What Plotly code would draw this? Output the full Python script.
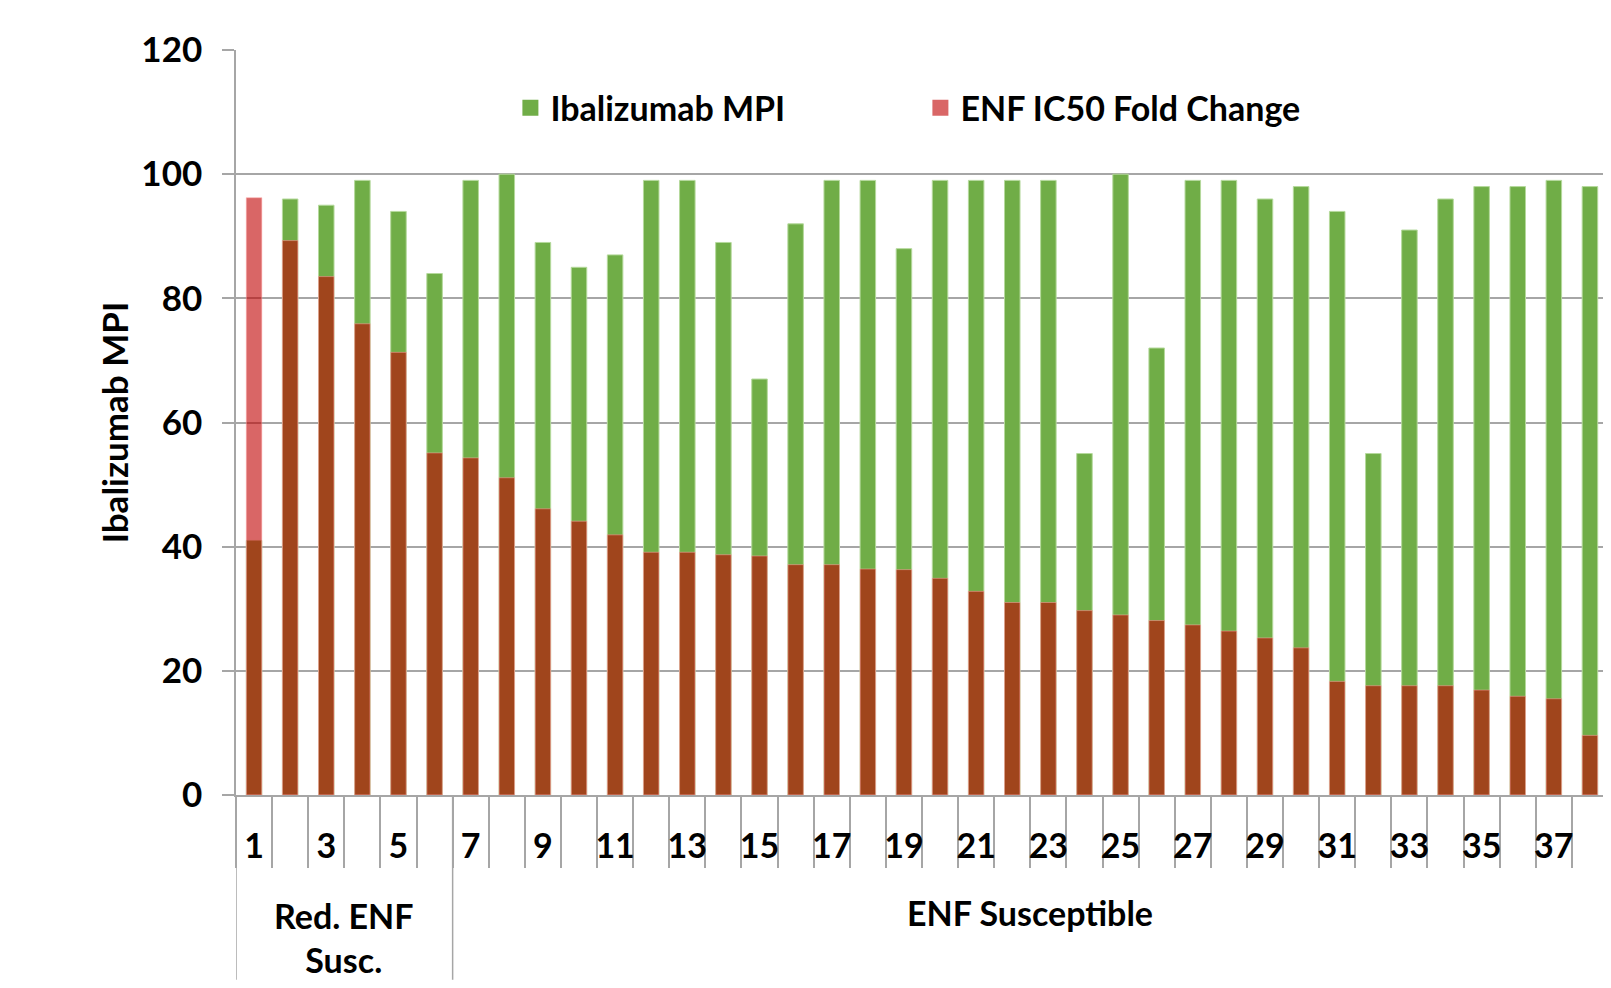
import plotly.graph_objects as go

#%%##===== data =====#####
isolates = list(range(1, 39))
ibalizumab_mpi = [41, 96, 95, 99, 94, 84, 99, 100, 89, 85, 87, 99, 99, 89, 67, 92, 99, 99, 88,
                  99, 99, 99, 99, 55, 100, 72, 99, 99, 96, 98, 94, 55, 91, 96, 98, 98, 99, 98]
enf_fold_change = [96.2, 89.3, 83.5, 75.9, 71.3, 55.1, 54.3, 51.1, 46.1, 44.1, 41.9, 39.1, 39.1,
                   38.7, 38.5, 37.1, 37.1, 36.4, 36.3, 34.9, 32.8, 31.0, 31.0, 29.7, 29.0, 28.1,
                   27.4, 26.4, 25.3, 23.7, 18.3, 17.6, 17.6, 17.6, 16.9, 15.9, 15.5, 9.6]
tick_labels = [str(i) for i in isolates if i % 2 == 1]
groups = [("Red. ENF<br>Susc.", 1, 6), ("ENF Susceptible", 7, 38)]

FONT = "Lato"
GRID = "#A6A6A6"
GREEN = "#70AD47"
RED = "rgba(192,0,0,0.6)"   #-- over green this gives the brown part
BOLD = dict(family=FONT, size=35, color="black", weight="bold")

fig = go.Figure()
fig.add_trace(go.Bar(x=isolates, y=ibalizumab_mpi, name="Ibalizumab MPI", showlegend=False,
                     marker=dict(color=GREEN, line=dict(color="#B5D99C", width=1)), width=0.43))
fig.add_trace(go.Bar(x=isolates, y=enf_fold_change, name="ENF IC50 Fold Change", showlegend=False,
                     marker=dict(color=RED, line=dict(color="rgba(255,170,170,0.5)", width=1)), width=0.43))
#-- legend-only entries (square swatches)
for nm, col in [("Ibalizumab MPI", GREEN), ("ENF IC50 Fold Change", RED)]:
    fig.add_trace(go.Scatter(x=[None], y=[None], mode="markers", name=nm,
                             marker=dict(symbol="square", size=21, color=col)))

#-- group dividers and labels under the axis
y_bottom = -0.248
shapes = []
for name, a, b in groups:
    shapes.append(dict(type="line", xref="x", yref="paper", x0=a - 0.5, x1=a - 0.5,
                       y0=0, y1=y_bottom, line=dict(color=GRID, width=1.5)))
shapes.append(dict(type="line", xref="paper", yref="paper", x0=1, x1=1,
                   y0=1, y1=y_bottom, line=dict(color=GRID, width=2.5)))
annots = []
for name, a, b in groups:
    annots.append(dict(x=(a + b) / 2, xref="x", yref="paper",
                       y=-0.158 if "<br>" not in name else -0.191, yanchor="middle",
                       text=name, showarrow=False, font=dict(BOLD, size=34)))

fig.update_layout(
    barmode="overlay",
    width=1603, height=972,
    margin=dict(l=228, r=3, t=42, b=185),
    plot_bgcolor="white", paper_bgcolor="white",
    font=BOLD,
    shapes=shapes, annotations=annots,
    legend=dict(orientation="h", x=0.2, y=0.922, xanchor="left", yanchor="middle",
                entrywidth=365, font=dict(BOLD, size=34), bgcolor="rgba(0,0,0,0)"),
)
fig.update_yaxes(range=[0, 120], dtick=20, showgrid=True, gridcolor=GRID, gridwidth=1.5,
                 showline=True, linecolor=GRID, linewidth=1.5,
                 ticks="outside", ticklen=12, tickcolor=GRID, tickwidth=1.5,
                 ticklabelstandoff=13, zeroline=False, tickfont=BOLD,
                 title=dict(text="Ibalizumab MPI", standoff=2, font=BOLD))
fig.update_xaxes(range=[0.5, 38.5], showgrid=False, zeroline=False,
                 showline=True, linecolor=GRID, linewidth=1.5,
                 tickmode="array", tickvals=[int(t) for t in tick_labels], ticktext=tick_labels,
                 ticks="outside", ticklen=20, tickcolor="rgba(0,0,0,0)", tickfont=dict(BOLD, size=34),
                 minor=dict(ticks="outside", ticklen=71, tickcolor=GRID, tickwidth=1.5,
                            tickmode="linear", tick0=0.5, dtick=1, showgrid=False))

fig.write_html("out.html")
